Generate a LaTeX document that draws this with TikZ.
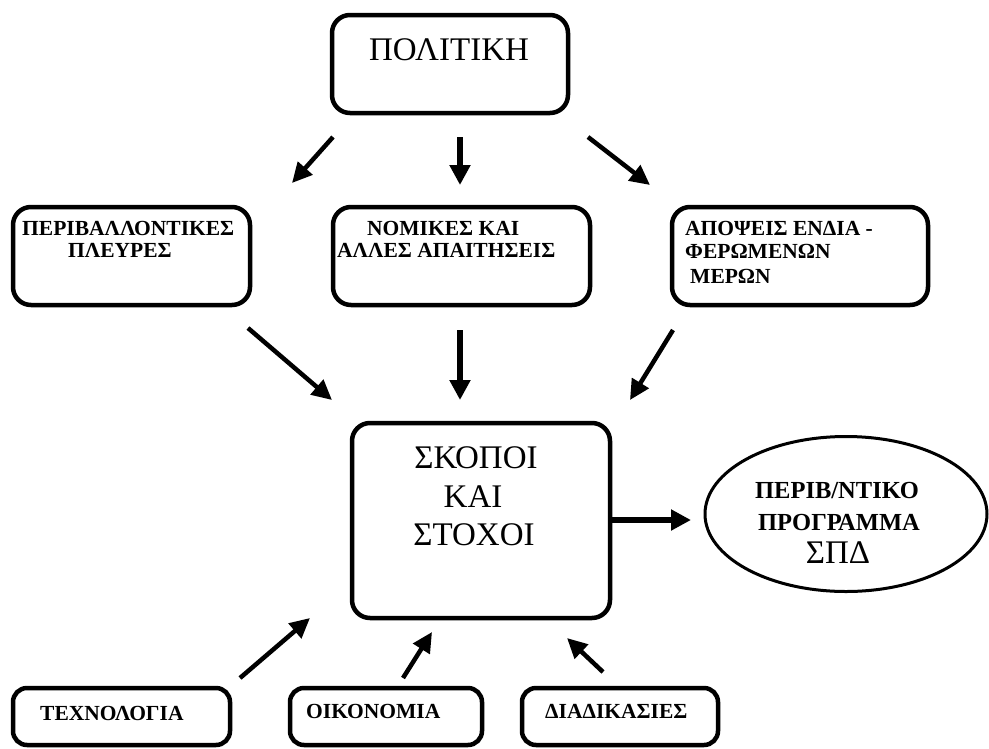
\documentclass[tikz,border=0pt]{standalone}
\usepackage{fontspec}
\setmainfont{Liberation Serif}
\usetikzlibrary{shapes.geometric,arrows.meta}
\tikzset{
  box/.style={draw, line width=4.5pt, rounded corners=18pt, inner sep=0pt},
  smallbox/.style={draw, line width=4.5pt, rounded corners=14pt, inner sep=0pt},
  oval/.style={draw, ellipse, line width=3pt, inner sep=0pt},
  lbl/.style={inner sep=0pt, anchor=base west, font=\fontsize{21.5}{25}\selectfont\bfseries},
  biglbl/.style={inner sep=0pt, anchor=base, font=\fontsize{33}{38}\selectfont},
  midlbl/.style={inner sep=0pt, anchor=base, font=\fontsize{24.5}{28}\selectfont\bfseries},
  arr/.style={line width=4.5pt, -{Triangle[length=20pt,width=19pt]}},
  thickarr/.style={line width=6pt, -{Triangle[length=20pt,width=20pt]}}
}
\begin{document}
\begin{tikzpicture}[x=1pt,y=-1pt]
\useasboundingbox (0,0) rectangle (989,748);
% boxes
\node[box, minimum width=236pt, minimum height=98pt] (pol) at (450,64) {};
\node[box, minimum width=237pt, minimum height=98pt] (env) at (131.5,256) {};
\node[box, minimum width=257pt, minimum height=98pt] (leg) at (461.5,256) {};
\node[box, minimum width=256pt, minimum height=98pt] (stake) at (800,256) {};
\node[box, minimum width=258pt, minimum height=195pt] (goal) at (481,520.5) {};
\node[oval, minimum width=282pt, minimum height=155pt] (prog) at (846,514) {};
\node[smallbox, minimum width=217pt, minimum height=57pt] (tech) at (121.5,716.5) {};
\node[smallbox, minimum width=192pt, minimum height=57pt] (econ) at (386,716.5) {};
\node[smallbox, minimum width=196pt, minimum height=57pt] (proc) at (620,716.5) {};
% texts
\node[biglbl] (tpol) at (449,60) {ΠΟΛΙΤΙΚΗ};
\node[lbl] (tenv1) at (22,235) {ΠΕΡΙΒΑΛΛΟΝΤΙΚΕΣ};
\node[lbl] (tenv2) at (68,257) {ΠΛΕΥΡΕΣ};
\node[lbl] (tleg1) at (367,235) {ΝΟΜΙΚΕΣ ΚΑΙ};
\node[lbl] (tleg2) at (337,257) {ΑΛΛΕΣ ΑΠΑΙΤΗΣΕΙΣ};
\node[lbl] (tst1) at (685,235) {ΑΠΟΨΕΙΣ ΕΝΔΙΑ -};
\node[lbl] (tst2) at (685,258) {ΦΕΡΩΜΕΝΩΝ};
\node[lbl] (tst3) at (690,283) {ΜΕΡΩΝ};
\node[biglbl] (tg1) at (476,468) {ΣΚΟΠΟΙ};
\node[biglbl] (tg2) at (473,507) {ΚΑΙ};
\node[biglbl] (tg3) at (474,545) {ΣΤΟΧΟΙ};
\node[midlbl] (tp1) at (837,498) {ΠΕΡΙΒ/ΝΤΙΚΟ};
\node[midlbl] (tp2) at (839,530) {ΠΡΟΓΡΑΜΜΑ};
\node[biglbl] (tp3) at (838,563) {ΣΠΔ};
\node[lbl] (ttech) at (40,720) {ΤΕΧΝΟΛΟΓΙΑ};
\node[lbl] (tecon) at (306,718) {ΟΙΚΟΝΟΜΙΑ};
\node[lbl] (tproc) at (545,718) {ΔΙΑΔΙΚΑΣΙΕΣ};
% arrow end points
\coordinate (a1s) at (333,137); \coordinate (a1e) at (292,183);
\coordinate (a2s) at (460,137); \coordinate (a2e) at (460,185);
\coordinate (a3s) at (588,137); \coordinate (a3e) at (650,185);
\coordinate (b1s) at (248,328); \coordinate (b1e) at (332,400);
\coordinate (b2s) at (460,330); \coordinate (b2e) at (460,400);
\coordinate (b3s) at (673,330); \coordinate (b3e) at (630,400);
\coordinate (c1s) at (240,678); \coordinate (c1e) at (310,618);
\coordinate (c2s) at (403,678); \coordinate (c2e) at (432,632);
\coordinate (c3s) at (603,672); \coordinate (c3e) at (567,638);
\coordinate (rs) at (goal.east |- 0,520); \coordinate (re) at (691,520);
% arrows
\draw[arr] (a1s) -- (a1e);
\draw[thickarr] (a2s) -- (a2e);
\draw[arr] (a3s) -- (a3e);
\draw[arr] (b1s) -- (b1e);
\draw[thickarr] (b2s) -- (b2e);
\draw[arr] (b3s) -- (b3e);
\draw[arr] (c1s) -- (c1e);
\draw[arr] (c2s) -- (c2e);
\draw[arr] (c3s) -- (c3e);
\draw[thickarr] (rs) -- (re);
\end{tikzpicture}
\end{document}
